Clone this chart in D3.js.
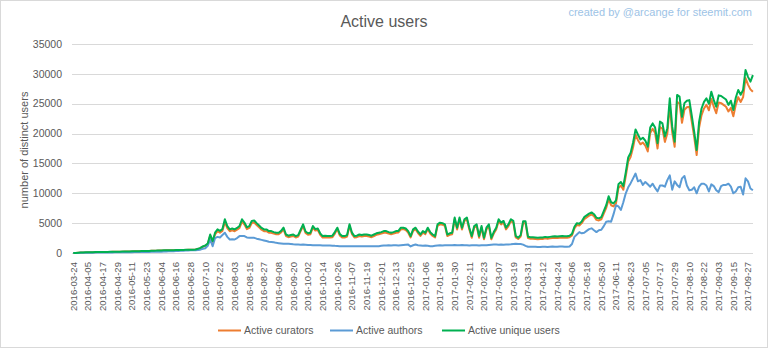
<!DOCTYPE html>
<html><head><meta charset="utf-8">
<script src="https://cdn.jsdelivr.net/npm/d3@7"></script>
<style>
body{margin:0;background:#fff;}
svg{display:block;font-family:"Liberation Sans",Arial,sans-serif;}
</style></head>
<body><svg id="c" width="768" height="349"></svg>
<script>
// ---- data ----
const startDate = "2016-03-24";   // first category
const stepDays = 2;               // one value every 2 days
const seriesNames = ["Active curators", "Active authors", "Active unique users"];
const tickLabels = ["2016-03-24","2016-04-05","2016-04-17","2016-04-29","2016-05-11","2016-05-23","2016-06-04","2016-06-16","2016-06-28","2016-07-10","2016-07-22","2016-08-03","2016-08-15","2016-08-27","2016-09-08","2016-09-20","2016-10-02","2016-10-14","2016-10-26","2016-11-07","2016-11-19","2016-12-01","2016-12-13","2016-12-25","2017-01-06","2017-01-18","2017-01-30","2017-02-11","2017-02-23","2017-03-07","2017-03-19","2017-03-31","2017-04-12","2017-04-24","2017-05-06","2017-05-18","2017-05-30","2017-06-11","2017-06-23","2017-07-05","2017-07-17","2017-07-29","2017-08-10","2017-08-22","2017-09-03","2017-09-15","2017-09-27"];
const yTicks = [0,5000,10000,15000,20000,25000,30000,35000];

const curators = [
0,0,50,70,90,100,110,120,130,140,
150,160,160,170,175,180,190,200,210,220,
230,240,250,260,270,280,290,300,310,320,
330,340,360,380,390,410,420,430,440,450,
460,470,480,490,500,510,520,530,540,550,
580,680,820,1050,1200,1500,2900,1800,3100,3650,
3400,3700,5200,4150,3650,3800,3650,3900,4200,5250,
4750,4000,4200,5000,5100,4700,4300,3900,3650,3650,
3400,3400,3250,3150,3150,3450,3950,2850,2650,2750,
2850,2600,2750,3650,4500,3350,3050,3150,4250,3750,
3850,3050,2600,2650,2600,2600,2650,3250,4000,2950,
2600,2600,2750,4550,3150,2600,2650,2850,2750,2850,
2850,2750,2650,2850,3050,3150,3250,3400,3400,3250,
3150,3250,3400,3450,3950,4000,3850,3400,2600,3700,
4000,3350,2850,3400,3150,4000,3250,2850,2600,4550,
4800,4750,4550,2850,3050,3150,5650,3950,5650,3950,
5350,5650,3950,2550,4250,4500,2550,4250,2300,3950,
4500,2300,3250,3950,5350,4800,5100,3950,4500,5350,
5100,2600,2350,2750,5000,5000,2500,2400,2400,2350,
2300,2350,2350,2450,2400,2450,2500,2550,2500,2550,
2600,2550,2550,2650,2950,4100,4700,4600,5000,5650,
5950,6250,6450,6150,5550,5450,5650,6600,7550,9000,
8000,7800,8300,10900,11300,10600,12900,15300,16100,17700,
19800,18900,18200,18500,18000,17000,20100,20800,20100,17500,
21100,20800,18600,20000,24700,20200,17800,25300,25000,21800,
24000,24400,24500,22000,19400,16400,21000,23100,24200,24800,
23900,25800,24500,23400,25200,25100,24800,24500,23700,24300,
22900,24800,26100,25300,26100,29300,28200,27400,27000];

const authors = [
0,0,20,30,40,50,50,60,60,70,
70,80,80,90,90,100,100,110,110,120,
120,130,130,140,140,150,150,160,160,170,
170,180,190,200,210,220,230,240,260,280,
290,300,320,340,360,380,400,420,440,450,
480,520,560,700,800,1200,2260,1130,2500,2700,
2600,3000,3400,2700,2260,2300,2260,2500,2830,2830,
2830,2600,2540,2540,2540,2400,2300,2200,2100,2000,
1900,1850,1800,1700,1650,1600,1550,1530,1530,1500,
1450,1420,1410,1400,1410,1380,1350,1330,1300,1300,
1300,1280,1260,1250,1240,1240,1230,1200,1180,1150,
1130,1130,1130,1130,1130,1130,1130,1130,1130,1150,
1130,1130,1120,1130,1140,1150,1200,1250,1250,1300,
1250,1300,1280,1250,1300,1350,1400,1410,1100,1300,
1410,1300,1250,1200,1250,1200,1150,1150,1200,1250,
1300,1250,1300,1280,1300,1300,1350,1300,1300,1350,
1300,1300,1250,1280,1300,1300,1250,1300,1300,1300,
1350,1400,1410,1410,1400,1410,1400,1410,1420,1450,
1500,1550,1500,1500,1400,1200,1050,1050,1050,1050,
1000,1000,1050,1050,1000,1050,1100,1050,1050,1100,
1100,1050,1050,1100,1500,2700,3100,3500,3300,3400,
3700,4000,4130,3800,3500,3800,3900,4500,5250,5300,
5250,6500,8000,7800,7200,8500,10000,11000,11700,12500,
13300,12000,12200,11400,11900,11500,11100,11600,10900,10300,
11300,11300,11100,12200,13000,10600,12000,11400,11000,12500,
12900,11300,10500,10600,11000,10000,11100,11600,11600,11300,
10300,11500,11200,10500,10200,11200,11400,11400,11600,11100,
10000,10300,11000,11100,9800,12500,12000,10800,10500];

const uniqueUsers = [
0,0,60,80,100,110,120,130,140,150,
160,170,170,180,185,190,200,210,220,230,
240,250,260,270,280,290,300,310,320,330,
340,350,370,390,400,420,430,440,450,460,
470,480,490,500,510,520,530,540,550,560,
600,700,850,1100,1250,1600,3100,2000,3400,3950,
3700,4000,5650,4500,3950,4100,3950,4200,4520,5650,
5100,4300,4500,5370,5450,5000,4600,4200,3950,3950,
3670,3670,3500,3400,3400,3700,4240,3100,2900,3000,
3100,2830,3000,3900,4800,3600,3300,3400,4520,4000,
4100,3300,2830,2900,2850,2830,2900,3500,4240,3200,
2850,2830,3000,4800,3400,2830,2900,3100,3000,3100,
3100,3000,2900,3100,3300,3400,3500,3670,3670,3500,
3400,3500,3670,3700,4240,4240,4100,3670,2830,3950,
4240,3600,3100,3670,3400,4240,3500,3100,2830,4800,
5080,5000,4800,3100,3300,3400,5930,4240,5930,4240,
5650,5930,4240,2830,4520,4800,2830,4520,2540,4240,
4800,2540,3500,4240,5650,5080,5370,4240,4800,5650,
5370,2850,2570,3000,5300,5300,2730,2650,2650,2600,
2550,2600,2600,2700,2650,2700,2750,2800,2750,2800,
2850,2800,2800,2900,3200,4400,5000,4900,5300,6000,
6300,6600,6800,6500,5900,5800,6000,7000,8000,9500,
8500,8300,8800,11500,11900,11200,13500,16000,16800,18500,
20700,19800,19000,19300,18800,17800,21000,21700,21000,18400,
22000,21700,19500,20900,25900,21150,18650,26470,26200,22800,
25100,25500,25600,23000,20300,17250,22000,24200,25300,25900,
25000,27000,25600,24500,26400,26300,26000,25700,24800,25500,
23950,26000,27300,26500,27300,30650,29500,28700,29800];

const colors = ["#ED7D31", "#5B9BD5", "#00B050"];

// ---- drawing ----
const svg = d3.select("#c");
const parse = d3.utcParse("%Y-%m-%d");
const t0 = parse(startDate);
const dates = curators.map((_, i) => d3.utcDay.offset(t0, i * stepDays));

const x = d3.scaleUtc().domain([t0, parse("2017-09-27")]).range([73.3, 748]);
const y = d3.scaleLinear().domain([0, 35000]).range([253, 44]);
const textCol = "#595959";

// border
svg.append("rect").attr("x",0.5).attr("y",0.5).attr("width",767).attr("height",347)
  .attr("fill","none").attr("stroke","#d9d9d9");

// gridlines
svg.append("g").selectAll("line").data(yTicks).join("line")
  .attr("x1",72).attr("x2",753)
  .attr("y1",d=>Math.round(y(d))+0.5).attr("y2",d=>Math.round(y(d))+0.5)
  .attr("stroke","#d9d9d9").attr("stroke-width",1);

// y labels
svg.append("g").selectAll("text").data(yTicks).join("text")
  .attr("x",62).attr("y",d=>y(d)).attr("dy","0.35em").attr("text-anchor","end")
  .attr("font-size",10.5).attr("fill",textCol).text(d=>d);

// x labels
svg.append("g").selectAll("text").data(tickLabels).join("text")
  .attr("transform",d=>`translate(${x(parse(d))},262) rotate(-90)`)
  .attr("dy","0.35em").attr("text-anchor","end")
  .attr("font-size",9.6).attr("fill",textCol).text(d=>d);

// lines
const series = [curators, authors, uniqueUsers];
const line = d3.line().x((d,i)=>x(dates[i])).y(d=>y(d));
series.forEach((s,k)=>{
  svg.append("path").datum(s).attr("d",line).attr("fill","none")
    .attr("stroke",colors[k]).attr("stroke-width",2).attr("stroke-linejoin","round");
});

// title & subtitle
svg.append("text").attr("x",384).attr("y",27).attr("text-anchor","middle")
  .attr("font-size",16).attr("fill",textCol).text("Active users");
svg.append("text").attr("x",752).attr("y",16).attr("text-anchor","end")
  .attr("font-size",11).attr("fill","#9DC3E6").text("created by @arcange for steemit.com");

// y axis title
svg.append("text").attr("transform","translate(24,150) rotate(-90)")
  .attr("text-anchor","middle").attr("dy","0.35em")
  .attr("font-size",11).attr("fill",textCol).text("number of distinct users");

// legend
const legX = [218, 330, 442];
const lg = svg.append("g").selectAll("g").data(seriesNames).join("g")
  .attr("transform",(d,i)=>`translate(${legX[i]},330)`);
lg.append("line").attr("x1",0).attr("x2",23).attr("y1",0.5).attr("y2",0.5)
  .attr("stroke",(d,i)=>colors[i]).attr("stroke-width",2);
lg.append("text").attr("x",26).attr("dy","0.35em").attr("font-size",10.5)
  .attr("fill",textCol).text(d=>d);
</script></body></html>
